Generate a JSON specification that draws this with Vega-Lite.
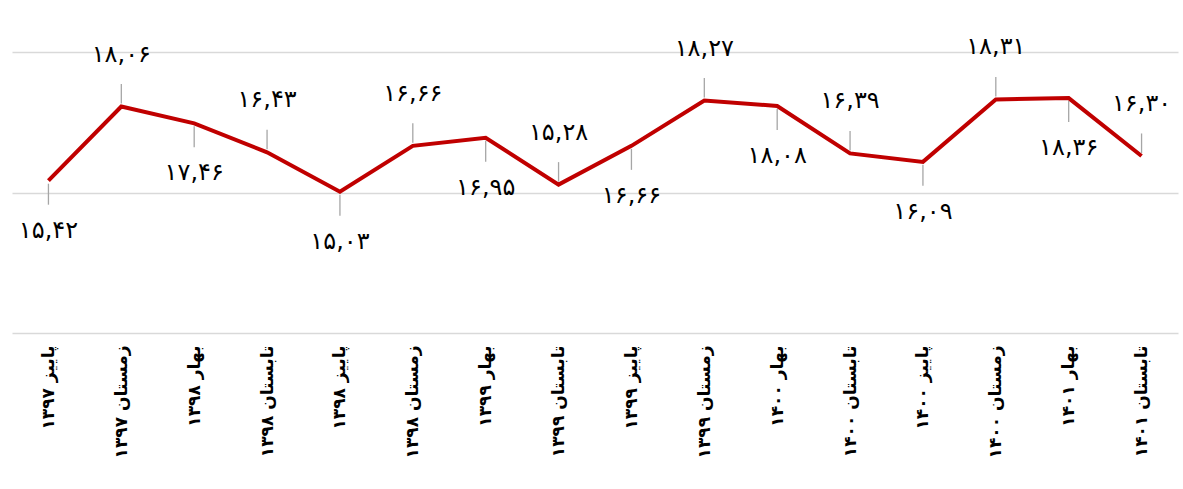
{
  "$schema": "https://vega.github.io/schema/vega-lite/v6.json",
  "width": 1166,
  "height": 281,
  "autosize": {"type": "none"},
  "padding": {"left": 12, "top": 52, "right": 5, "bottom": 156},
  "background": "white",
  "config": {"view": {"stroke": null}, "font": "DejaVu Sans"},
  "data": {
    "values": [
      {"quarter": "پاییز ۱۳۹۷", "value": 15.42, "label": "۱۵,۴۲"},
      {"quarter": "زمستان ۱۳۹۷", "value": 18.06, "label": "۱۸,۰۶"},
      {"quarter": "بهار ۱۳۹۸", "value": 17.46, "label": "۱۷,۴۶"},
      {"quarter": "تابستان ۱۳۹۸", "value": 16.43, "label": "۱۶,۴۳"},
      {"quarter": "پاییز ۱۳۹۸", "value": 15.03, "label": "۱۵,۰۳"},
      {"quarter": "زمستان ۱۳۹۸", "value": 16.66, "label": "۱۶,۶۶"},
      {"quarter": "بهار ۱۳۹۹", "value": 16.95, "label": "۱۶,۹۵"},
      {"quarter": "تابستان ۱۳۹۹", "value": 15.28, "label": "۱۵,۲۸"},
      {"quarter": "پاییز ۱۳۹۹", "value": 16.66, "label": "۱۶,۶۶"},
      {"quarter": "زمستان ۱۳۹۹", "value": 18.27, "label": "۱۸,۲۷"},
      {"quarter": "بهار ۱۴۰۰", "value": 18.08, "label": "۱۸,۰۸"},
      {"quarter": "تابستان ۱۴۰۰", "value": 16.39, "label": "۱۶,۳۹"},
      {"quarter": "پاییز ۱۴۰۰", "value": 16.09, "label": "۱۶,۰۹"},
      {"quarter": "زمستان ۱۴۰۰", "value": 18.31, "label": "۱۸,۳۱"},
      {"quarter": "بهار ۱۴۰۱", "value": 18.36, "label": "۱۸,۳۶"},
      {"quarter": "تابستان ۱۴۰۱", "value": 16.30, "label": "۱۶,۳۰"}
    ]
  },
  "transform": [{"window": [{"op": "row_number", "as": "n"}]}],
  "encoding": {
    "x": {
      "field": "quarter",
      "type": "ordinal",
      "sort": null,
      "scale": {
        "type": "point",
        "padding": 0.5,
        "domain": ["پاییز ۱۳۹۷", "زمستان ۱۳۹۷", "بهار ۱۳۹۸", "تابستان ۱۳۹۸", "پاییز ۱۳۹۸", "زمستان ۱۳۹۸", "بهار ۱۳۹۹", "تابستان ۱۳۹۹", "پاییز ۱۳۹۹", "زمستان ۱۳۹۹", "بهار ۱۴۰۰", "تابستان ۱۴۰۰", "پاییز ۱۴۰۰", "زمستان ۱۴۰۰", "بهار ۱۴۰۱", "تابستان ۱۴۰۱"]
      },
      "axis": {
        "title": null,
        "labelAngle": -90,
        "ticks": false,
        "domain": false,
        "grid": false,
        "labelFont": "DejaVu Sans",
        "labelFontWeight": "bold",
        "labelFontSize": 17,
        "labelColor": "#000000",
        "labelPadding": 12,
        "labelOverlap": false,
        "labelBound": false
      }
    },
    "y": {
      "field": "value",
      "type": "quantitative",
      "scale": {"domain": [10, 20], "nice": false, "zero": false},
      "axis": {
        "title": null,
        "values": [10, 15, 20],
        "labels": false,
        "ticks": false,
        "domain": false,
        "grid": true,
        "gridColor": "#d9d9d9",
        "gridWidth": 1.5
      }
    }
  },
  "layer": [
    {
      "transform": [{"filter": "datum.n % 2 == 1"}],
      "mark": {"type": "point", "shape": "M0,0.1L0,0.8", "size": 3600, "stroke": "#a6a6a6", "strokeWidth": 1.3, "filled": false, "opacity": 1}
    },
    {
      "transform": [{"filter": "datum.n % 2 == 0"}],
      "mark": {"type": "point", "shape": "M0,-0.1L0,-0.75", "size": 3600, "stroke": "#a6a6a6", "strokeWidth": 1.3, "filled": false, "opacity": 1}
    },
    {
      "mark": {"type": "line", "color": "#c00000", "strokeWidth": 4}
    },
    {
      "transform": [{"filter": "datum.n % 2 == 1"}],
      "mark": {"type": "text", "dy": 50, "baseline": "middle", "align": "center", "fontSize": 24, "font": "DejaVu Sans", "color": "#000000"},
      "encoding": {"text": {"field": "label"}}
    },
    {
      "transform": [{"filter": "datum.n % 2 == 0"}],
      "mark": {"type": "text", "dy": -52, "baseline": "middle", "align": "center", "fontSize": 24, "font": "DejaVu Sans", "color": "#000000"},
      "encoding": {"text": {"field": "label"}}
    }
  ]
}
